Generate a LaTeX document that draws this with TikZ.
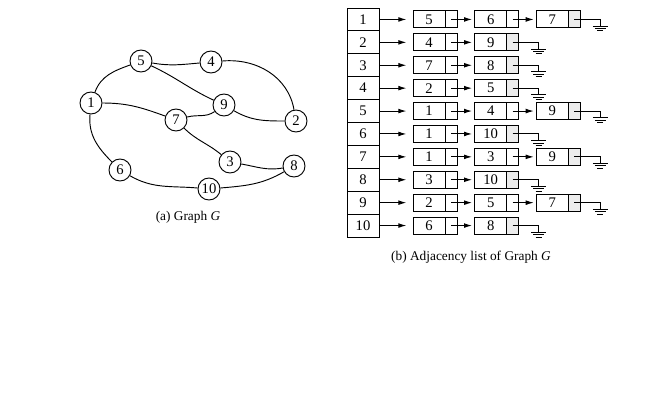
\documentclass[tikz,border=0pt]{standalone}
\usepackage{fontspec}
\setmainfont{Liberation Serif}
\usetikzlibrary{arrows.meta}
\usetikzlibrary{positioning}

\tikzset{
 vertex/.style={circle,draw,line width=0.7pt,minimum size=16.5pt,inner sep=0pt,font=\fontsize{11}{12}\selectfont},
 headbox/.style={draw,line width=0.7pt,minimum width=24pt,minimum height=17.2pt,inner sep=0pt,outer sep=0pt,font=\fontsize{11}{12}\selectfont},
 datacell/.style={draw,line width=0.7pt,minimum width=24pt,minimum height=12.75pt,inner sep=0pt,outer sep=0pt,font=\fontsize{11}{12}\selectfont},
 ptrcell/.style={draw,line width=0.7pt,minimum width=9pt,minimum height=12.75pt,inner sep=0pt,outer sep=0pt},
 link/.style={-{Latex[length=6pt,width=3.6pt]},line width=0.7pt,shorten >=2pt},
 edge/.style={line width=0.7pt},
 caption/.style={font=\fontsize{10}{12}\selectfont},
 earth/.pic={\draw[line width=0.7pt] (-7.5,0) -- (7.5,0) (-5.5,-2.4) -- (5.5,-2.4) (-3,-4.8) -- (3,-4.8);}
}

\begin{document}
\begin{tikzpicture}[x=0.75pt,y=0.75pt]
 \useasboundingbox (0,0) rectangle (671,-404);
 % graph G
 \node[vertex] (v1) at (91,-103) {1};
 \node[vertex] (v5) at (141,-61) {5};
 \node[vertex] (v4) at (211,-62) {4};
 \node[vertex] (v9) at (224,-105) {9};
 \node[vertex] (v7) at (176,-120) {7};
 \node[vertex] (v2) at (296,-121) {2};
 \node[vertex] (v3) at (230,-162) {3};
 \node[vertex] (v8) at (294,-166) {8};
 \node[vertex] (v6) at (120,-170) {6};
 \node[vertex] (v10) at (209,-189) {10};
 \draw[edge] (v1) to[out=70,in=200] (v5);
 \draw[edge] (v5) to[out=-10,in=185] (v4);
 \draw[edge] (v5) to[out=-25,in=155] (v9);
 \draw[edge] (v4) to[out=5,in=100] (v2);
 \draw[edge] (v1) to[out=0,in=160] (v7);
 \draw[edge] (v7) to[out=15,in=215] (v9);
 \draw[edge] (v9) to[out=-30,in=180] (v2);
 \draw[edge] (v7) to[out=-45,in=140] (v3);
 \draw[edge] (v3) to[out=-10,in=190] (v8);
 \draw[edge] (v1) to[out=-95,in=135] (v6);
 \draw[edge] (v6) to[out=-30,in=175] (v10);
 \draw[edge] (v10) to[out=5,in=210] (v8);
 \node[caption] (capa) at (188,-217) {(a) Graph \textit{G}};

 % adjacency list
 \foreach \i/\n/\lst in {1/3/{5,6,7},2/2/{4,9},3/2/{7,8},4/2/{2,5},5/3/{1,4,9},
                        6/2/{1,10},7/3/{1,3,9},8/2/{3,10},9/3/{2,5,7},10/2/{6,8}}{
   \node[headbox] (h\i) at (363,{-8-22.9*(\i-0.5)}) {\i};
   \foreach \v [count=\k] in \lst {
     \pgfmathtruncatemacro\prev{\k-1}
     \ifnum\k=\n \def\ptrfill{gray!15}\else\def\ptrfill{white}\fi
     \node[datacell] (d\i-\k) at ({429+61.7*(\k-1)},{-8-22.9*(\i-0.5)}) {\v};
     \node[ptrcell,fill=\ptrfill,right=0pt of d\i-\k] (p\i-\k) {};
     \ifnum\k=1
       \draw[link,shorten >=5pt] (h\i) -- (d\i-\k);
     \else
       \draw[link] (p\i-\prev.center) -- (d\i-\k);
     \fi
     \ifnum\k=\n
       \coordinate (g\i) at ([xshift=15pt,yshift=-5pt]p\i-\k.east);
       \draw[edge] (p\i-\k.center) -| (g\i);
       \pic at (g\i) {earth};
     \fi
   }
 }
 \node[caption] (capb) at (471,-257) {(b) Adjacency list of Graph \textit{G}};
\end{tikzpicture}
\end{document}
